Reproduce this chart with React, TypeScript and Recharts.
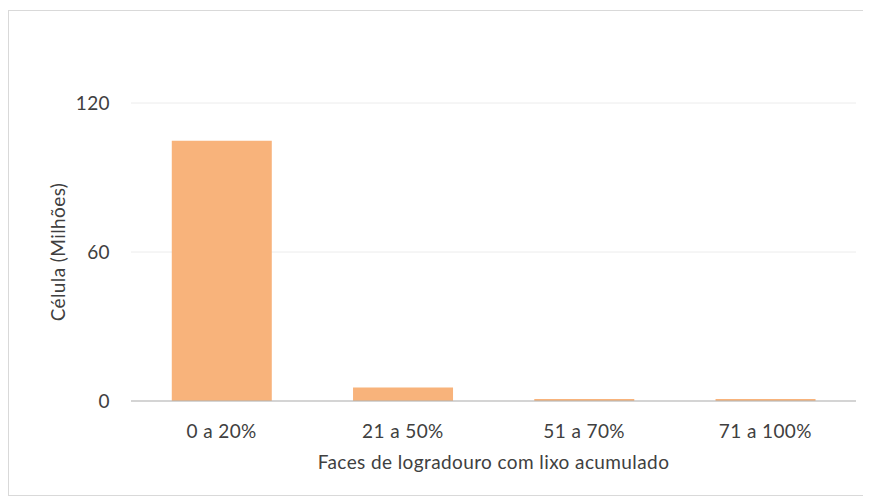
import React from 'react';
import {
  BarChart, Bar, XAxis, YAxis, CartesianGrid,
} from 'recharts';

const categories = ['0 a 20%', '21 a 50%', '51 a 70%', '71 a 100%'];
const cellValues = [104.8, 5.4, 0.8, 0.8];
const yTicks = [0, 60, 120];

const data = categories.map((faixa, i) => ({ faixa, celulas: cellValues[i] }));

const font = 'Lato, "Open Sans", sans-serif';
const textColor = '#404040';
const textStyle = { fill: textColor, fontSize: 19, fontFamily: font, letterSpacing: 0.4 };

export default function App() {
  return (
    <div style={{
      width: 862,
      height: 484,
      marginTop: 2,
      border: '1px solid #d9d9d9',
      background: '#fff',
      fontFamily: font,
    }}>
      <BarChart
        width={862}
        height={484}
        data={data}
        margin={{ top: 92, right: 15, bottom: 0, left: 0 }}
        barCategoryGap="22.5%"
      >
        <CartesianGrid vertical={false} stroke="#ececec" />
        <XAxis
          dataKey="faixa"
          height={94}
          tick={textStyle}
          tickLine={false}
          axisLine={{ stroke: '#b3b3b3' }}
          tickMargin={18}
          label={{
            value: 'Faces de logradouro com lixo acumulado',
            position: 'insideBottom',
            offset: 26,
            style: textStyle,
          }}
        />
        <YAxis
          width={122}
          domain={[0, 120]}
          ticks={yTicks}
          tick={textStyle}
          tickLine={false}
          axisLine={false}
          tickMargin={15}
          label={{
            value: 'Célula (Milhões)',
            angle: -90,
            position: 'insideLeft',
            offset: 49,
            style: { ...textStyle, textAnchor: 'middle' },
          }}
        />
        <Bar dataKey="celulas" fill="#f8b37b" isAnimationActive={false} />
      </BarChart>
    </div>
  );
}
